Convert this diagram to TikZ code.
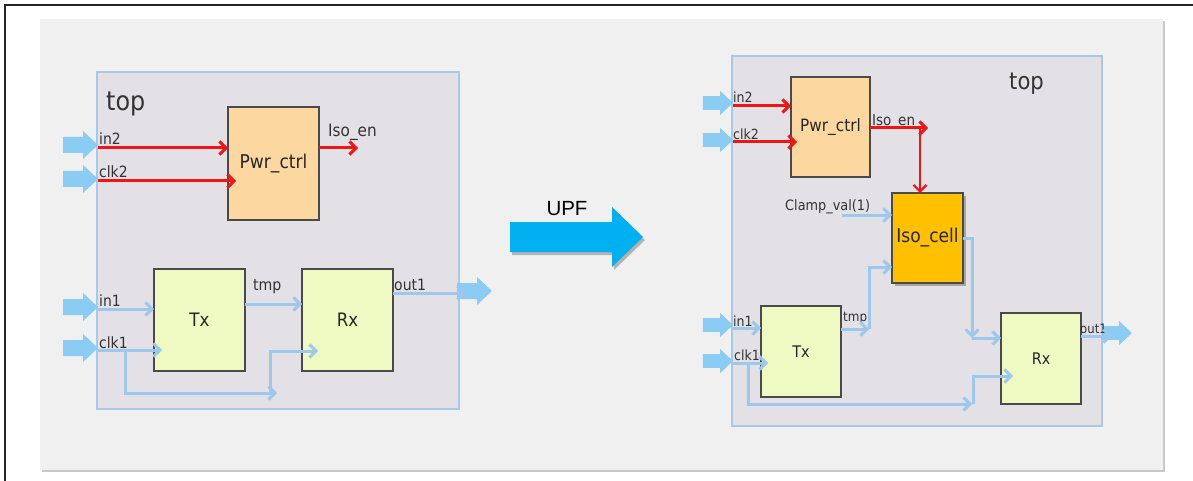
\documentclass[tikz,border=0pt]{standalone}
\usepackage{fontspec}
\setmainfont{DejaVu Sans Condensed}
\newfontfamily\upffont{Liberation Sans}
\usetikzlibrary{arrows.meta,calc}
\definecolor{panel}{HTML}{F0F0F0}
\definecolor{panelshadow}{HTML}{C8C8C8}
\definecolor{topfill}{HTML}{E3E1E5}
\definecolor{topborder}{HTML}{A6C9EA}
\definecolor{pwrfill}{HTML}{FCD8A0}
\definecolor{blkfill}{HTML}{EFFAC3}
\definecolor{isofill}{HTML}{FFC000}
\definecolor{redc}{HTML}{F01414}
\definecolor{bluec}{HTML}{9CC8EE}
\definecolor{bigblue}{HTML}{8ACCF4}
\definecolor{upfblue}{HTML}{00B0F0}
\definecolor{txt}{HTML}{333333}
\definecolor{boxline}{HTML}{4A4A4A}
\tikzset{
  box/.style={draw=boxline, line width=1.3pt, outer sep=0pt, inner sep=0pt, text=black!85},
  pwr/.style={box, fill=pwrfill},
  blk/.style={box, fill=blkfill},
  iso/.style={box, fill=isofill},
  topbox/.style={draw=topborder, fill=topfill, line width=2pt},
  redw/.style={draw=redc, line width=3pt, -{Straight Barb[length=6.5pt,width=13pt]}},
  bluew/.style={draw=bluec, line width=3pt, -{Straight Barb[length=6.5pt,width=13pt]}},
  lblL/.style={anchor=base west, inner sep=0pt, text=txt, font=\fontsize{15.5}{16}\selectfont},
  lblR/.style={anchor=base west, inner sep=0pt, text=txt, font=\fontsize{14}{15}\selectfont},
  bigarrow/.pic={\fill[bigblue] (-35,-8) -- (-15,-8) -- (-15,-14) -- (0,0) -- (-15,14) -- (-15,8) -- (-35,8) -- cycle;},
}
\begin{document}
\begin{tikzpicture}[x=1pt,y=-1pt]
\useasboundingbox (0,0) rectangle (1193,481);
\clip (0,0) rectangle (1193,481);
\fill[white] (0,0) rectangle (1193,481);
% outer frame
\draw[line width=2pt, black!85] (5,495) -- (5,5) -- (1200,5);
% panel
\fill[panelshadow] (42,21) rectangle (1165,472);
\fill[panel] (40,19) rectangle (1163,470);

% ================= LEFT =================
\node[topbox, minimum width=362pt, minimum height=337pt, inner sep=0pt] (topL) at (278,240.5) {};
\node[anchor=base west, inner sep=0pt, text=txt, font=\fontsize{26.5}{27}\selectfont] (topLt) at (106,111) {top};
\node[pwr, minimum width=91pt, minimum height=113pt, font=\fontsize{19}{20}\selectfont] (pwrL) at (273.5,163.5) {Pwr\_ctrl};
\node[blk, minimum width=91pt, minimum height=102pt, font=\fontsize{18.5}{19}\selectfont] (txL) at (199.5,320) {Tx};
\node[blk, minimum width=91pt, minimum height=102pt, font=\fontsize{18.5}{19}\selectfont] (rxL) at (347.5,320) {Rx};

\pic at (98,145) {bigarrow};
\pic at (98,179) {bigarrow};
\pic at (98,307) {bigarrow};
\pic at (98,348) {bigarrow};
\pic at (492,291) {bigarrow};

\coordinate (Lin2) at (98,148);
\coordinate (Lclk2) at (98,181);
\coordinate (Lin1) at (98,309);
\coordinate (Lclk1) at (98,350);
\coordinate (LisoE) at (358,148);
\coordinate (Ltmp) at (245,304);
\coordinate (Lout) at (393,293);
\coordinate (LoutE) at (466,293);
\coordinate (Lj) at (125,393);
\coordinate (Lbot) at (277,393);
\coordinate (Lup) at (270,393);
\coordinate (Lrx) at (318,351);

\node[lblL] (lin2) at (99,145) {in2};
\node[lblL] (lclk2) at (99,178) {clk2};
\node[lblL] (lin1) at (99,306) {in1};
\node[lblL] (lclk1) at (99,348) {clk1};
\node[anchor=base west, inner sep=0pt, text=txt, font=\fontsize{17}{18}\selectfont] (lisoen) at (328,137) {Iso\_en};
\node[anchor=base west, inner sep=0pt, text=txt, font=\fontsize{15.7}{16}\selectfont] (ltmp) at (253,290) {tmp};
\node[anchor=base west, inner sep=0pt, text=txt, font=\fontsize{15.6}{16}\selectfont] (lout) at (394,290) {out1};

\draw[redw] (Lin2) -- (Lin2 -| pwrL.west);
\draw[redw] (Lclk2) -- ([xshift=8pt]Lclk2 -| pwrL.west);
\draw[redw] (Lin2 -| pwrL.east) -- (LisoE);

\draw[bluew] (Lin1) -- (Lin1 -| txL.west);
\draw[bluew] (Lclk1) -- ([xshift=8pt]Lclk1 -| txL.west);
\draw[bluew] (Lclk1 -| Lj) -- (Lj) -- (Lbot);
\draw[bluew] (Lup) |- (Lrx);
\draw[bluew] (Ltmp) -- (Ltmp -| rxL.west);
\draw[bluew] (Lout) -- (LoutE);

% ================= UPF arrow =================
\fill[black!30] (512,225) -- (614,225) -- (614,210) -- (645,240) -- (614,270) -- (614,255) -- (512,255) -- cycle;
\fill[upfblue] (510,222) -- (612,222) -- (612,207) -- (643,237) -- (612,267) -- (612,252) -- (510,252) -- cycle;
\node[anchor=base, inner sep=0pt, font=\upffont\fontsize{20.5}{21}\selectfont] (upf) at (567,215) {UPF};

% ================= RIGHT =================
\node[topbox, minimum width=370pt, minimum height=370pt, inner sep=0pt] (topR) at (917,241) {};
\node[anchor=base west, inner sep=0pt, text=txt, font=\fontsize{23.5}{24}\selectfont] (topRt) at (1009,90) {top};
\node[pwr, minimum width=79pt, minimum height=100pt, font=\fontsize{17}{18}\selectfont] (pwrR) at (830.5,127) {Pwr\_ctrl};
\fill[black!35] (895,196) rectangle (966,286);
\node[iso, minimum width=71pt, minimum height=90pt, font=\fontsize{19}{20}\selectfont] (isoR) at (927.5,238) {Iso\_cell};
\node[blk, minimum width=80pt, minimum height=91pt, font=\fontsize{16}{17}\selectfont] (txR) at (801,351.5) {Tx};
\node[blk, minimum width=80pt, minimum height=91pt, font=\fontsize{16}{17}\selectfont] (rxR) at (1041,358.5) {Rx};

\pic[scale=0.86] at (733,103) {bigarrow};
\pic[scale=0.86] at (733,140) {bigarrow};
\pic[scale=0.86] at (733,325) {bigarrow};
\pic[scale=0.86] at (733,361) {bigarrow};
\pic[scale=0.86] at (1132,333) {bigarrow};

\coordinate (Rin2) at (733,106);
\coordinate (Rclk2) at (733,142);
\coordinate (Rin1) at (733,328);
\coordinate (Rclk1) at (733,363);
\coordinate (RisoE) at (928,128);
\coordinate (Rdrop) at (920,128);
\coordinate (Rcl) at (842,215);
\coordinate (Rtmp) at (841,329);
\coordinate (Rtj) at (869,329);
\coordinate (Rtu) at (869,267);
\coordinate (Rio) at (972,238);
\coordinate (Rdn) at (972,338);
\coordinate (Rj) at (748,404);
\coordinate (Rbot) at (972,404);
\coordinate (Rup) at (973,404);
\coordinate (Rrx) at (1013,376);
\coordinate (Rout) at (1081,336);
\coordinate (RoutE) at (1112,336);

\node[lblR] (rin2) at (733,103) {in2};
\node[lblR] (rclk2) at (733,140) {clk2};
\node[lblR] (rin1) at (733,326) {in1};
\node[lblR] (rclk1) at (734,360) {clk1};
\node[anchor=base west, inner sep=0pt, text=txt, font=\fontsize{15}{16}\selectfont] (risoen) at (872,126) {Iso\_en};
\node[anchor=base west, inner sep=0pt, text=txt, font=\fontsize{14.3}{15}\selectfont] (rclamp) at (785,211) {Clamp\_val(1)};
\node[anchor=base west, inner sep=0pt, text=txt, font=\fontsize{13.3}{14}\selectfont] (rtmp) at (843,321) {tmp};
\node[anchor=base west, inner sep=0pt, text=txt, font=\fontsize{13}{14}\selectfont] (rout) at (1080,333) {out1};

\draw[redw] (Rin2) -- (Rin2 -| pwrR.west);
\draw[redw] (Rclk2) -- ([xshift=6pt]Rclk2 -| pwrR.west);
\draw[redw] (RisoE -| pwrR.east) -- (RisoE);
\draw[redw, line width=2.2pt] (Rdrop) -- (Rdrop |- isoR.north);

\draw[bluew] (Rcl) -- (Rcl -| isoR.west);
\draw[bluew] (Rtmp) -- (Rtj);
\draw[bluew] (Rtj) -- (Rtu) -- (Rtu -| isoR.west);
\draw[bluew] (Rio -| isoR.east) -- (Rio) -- (Rdn);
\draw[bluew] (Rdn) -- (Rdn -| rxR.west);

\draw[bluew] (Rin1) -- (Rin1 -| txR.west);
\draw[bluew] (Rclk1) -- ([xshift=7pt]Rclk1 -| txR.west);
\draw[bluew] (Rclk1 -| Rj) -- (Rj) -- (Rbot);
\draw[bluew] (Rup) |- (Rrx);
\draw[bluew] (Rout) -- (RoutE);
\end{tikzpicture}
\end{document}
